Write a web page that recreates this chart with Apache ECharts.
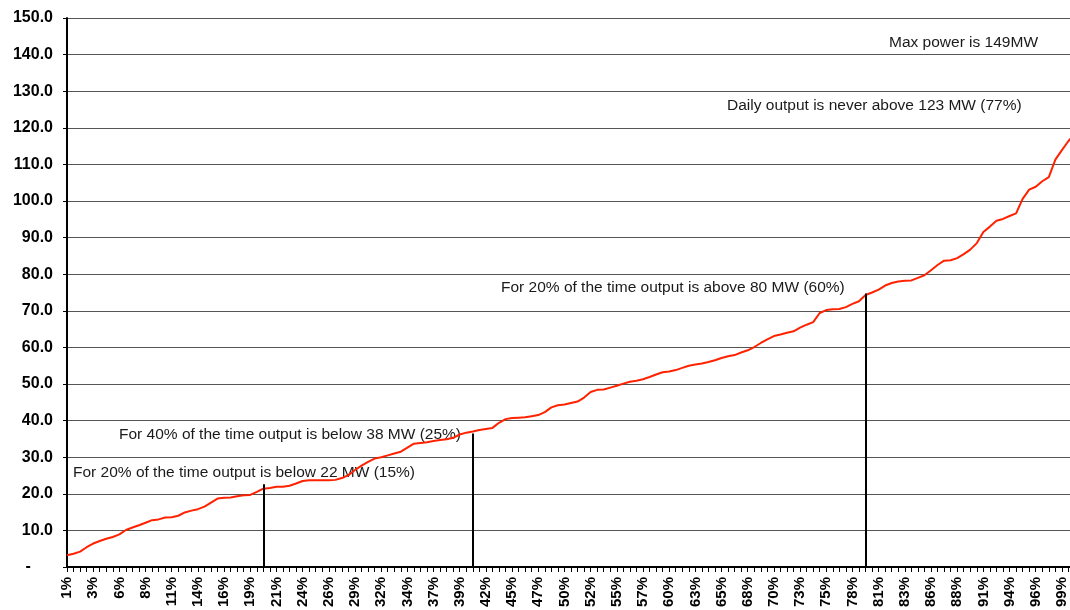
<!DOCTYPE html>
<html>
<head>
<meta charset="utf-8">
<title>Daily output duration curve</title>
<script src="https://cdn.jsdelivr.net/npm/echarts@6/dist/echarts.min.js"></script>
<style>
  html, body { margin: 0; padding: 0; background: #fff; overflow: hidden; }
  #chart { width: 1080px; height: 610px; }
</style>
</head>
<body>
<div id="chart"></div>
<script>
// percentile categories (share of days), every 4th one is labelled
const categories = [
  '1%','1%','2%','3%','3%','4%','5%','5%','6%','6%',
  '7%','8%','8%','9%','10%','10%','11%','12%','12%','13%',
  '14%','14%','15%','15%','16%','17%','17%','18%','19%','19%',
  '20%','21%','21%','22%','23%','23%','24%','25%','25%','26%',
  '26%','27%','28%','28%','29%','30%','30%','31%','32%','32%',
  '33%','34%','34%','35%','35%','36%','37%','37%','38%','39%',
  '39%','40%','41%','41%','42%','43%','43%','44%','45%','45%',
  '46%','46%','47%','48%','48%','49%','50%','50%','51%','52%',
  '52%','53%','54%','54%','55%','55%','56%','57%','57%','58%',
  '59%','59%','60%','61%','61%','62%','63%','63%','64%','65%',
  '65%','66%','66%','67%','68%','68%','69%','70%','70%','71%',
  '72%','72%','73%','74%','74%','75%','75%','76%','77%','77%',
  '78%','79%','79%','80%','81%','81%','82%','83%','83%','84%',
  '85%','85%','86%','86%','87%','88%','88%','89%','90%','90%',
  '91%','92%','92%','93%','94%','94%','95%','95%','96%','97%',
  '97%','98%','99%','99%','100%'
];

// daily output in MW, sorted
const output = [
  3.2, 3.6, 4.2, 5.4, 6.4, 7.1, 7.7, 8.2, 8.9, 10.1,
  10.8, 11.4, 12.1, 12.8, 13.0, 13.5, 13.6, 14.0, 14.9, 15.4,
  15.8, 16.5, 17.6, 18.7, 18.9, 19.0, 19.3, 19.6, 19.7, 20.5,
  21.4, 21.6, 21.9, 21.9, 22.2, 22.8, 23.5, 23.7, 23.7, 23.7,
  23.7, 23.8, 24.3, 25.1, 26.5, 27.7, 28.7, 29.6, 30.0, 30.5,
  31.0, 31.5, 32.6, 33.7, 33.9, 34.1, 34.4, 34.7, 34.9, 35.3,
  36.2, 36.7, 37.0, 37.4, 37.7, 38.0, 39.4, 40.4, 40.7, 40.8,
  40.9, 41.2, 41.5, 42.3, 43.6, 44.2, 44.4, 44.8, 45.2, 46.3,
  47.8, 48.4, 48.5, 49.0, 49.5, 50.1, 50.6, 50.9, 51.3, 51.9,
  52.6, 53.2, 53.4, 53.8, 54.4, 55.0, 55.3, 55.6, 56.0, 56.5,
  57.1, 57.6, 57.9, 58.6, 59.2, 60.1, 61.2, 62.2, 63.1, 63.5,
  64.0, 64.4, 65.4, 66.2, 66.9, 69.4, 70.2, 70.4, 70.5, 71.0,
  71.9, 72.6, 74.3, 75.0, 75.8, 76.9, 77.6, 78.0, 78.2, 78.3,
  79.0, 79.7, 81.1, 82.5, 83.7, 83.8, 84.4, 85.5, 86.7, 88.5,
  91.5, 93.0, 94.6, 95.1, 95.9, 96.6, 100.6, 103.1, 103.9, 105.4,
  106.5, 111.3, 113.9, 116.4, 118.3
];

// marker lines: category index and how high the line goes
const markerIndex = [30, 62, 122];
const markerTop = [22.6, 36.5, 74.7];

const notes = [
  'Max power is 149MW',
  'Daily output is never above 123 MW (77%)',
  'For 20% of the time output is above 80 MW (60%)',
  'For 40% of the time output is below 38 MW (25%)',
  'For 20% of the time output is below 22 MW (15%)'
];
// where each note sits (left, middle), px
const notePos = [[889, 43], [727, 106], [501, 288], [119, 435], [73, 473]];

const chart = echarts.init(document.getElementById('chart'), null, { renderer: 'canvas' });

const fontFamily = '"Liberation Sans", Arial, sans-serif';

const option = {
  animation: false,
  backgroundColor: '#fff',
  grid: { left: 67, right: 5, top: 18, bottom: 42 },
  xAxis: {
    type: 'category',
    data: categories,
    boundaryGap: false,
    axisLine: { lineStyle: { color: '#000', width: 2 } },
    axisTick: { interval: 0, length: 5, lineStyle: { color: '#000', width: 1 } },
    axisLabel: {
      interval: 3,
      rotate: 90,
      margin: 10,
      color: '#000',
      fontSize: 15,
      fontWeight: 'bold',
      fontFamily: fontFamily
    },
    splitLine: { show: false }
  },
  yAxis: {
    type: 'value',
    min: 0,
    max: 150,
    interval: 10,
    axisLine: { show: true, lineStyle: { color: '#000', width: 2 } },
    axisTick: { show: true, length: 4, lineStyle: { color: '#000' } },
    axisLabel: {
      margin: 14,
      color: '#000',
      fontSize: 16,
      fontWeight: 'bold',
      fontFamily: fontFamily,
      formatter: v => (v === 0 ? '-     ' : v.toFixed(1))
    },
    splitLine: { lineStyle: { color: '#555', width: 1 } }
  },
  series: [{
    type: 'line',
    data: output,
    showSymbol: false,
    symbol: 'none',
    lineStyle: { color: '#ff2200', width: 2 },
    markLine: {
      silent: true,
      symbol: 'none',
      label: { show: false },
      lineStyle: { color: '#000', width: 2, type: 'solid' },
      data: markerIndex.map((idx, k) => [
        { coord: [idx, 0] },
        { coord: [idx, markerTop[k]] }
      ])
    }
  }],
  graphic: notes.map((t, k) => ({
    type: 'text',
    left: notePos[k][0],
    top: notePos[k][1] - 8,
    style: {
      text: t,
      fill: '#1a1a1a',
      font: '15.5px ' + fontFamily
    }
  }))
};

chart.setOption(option);
</script>
</body>
</html>
